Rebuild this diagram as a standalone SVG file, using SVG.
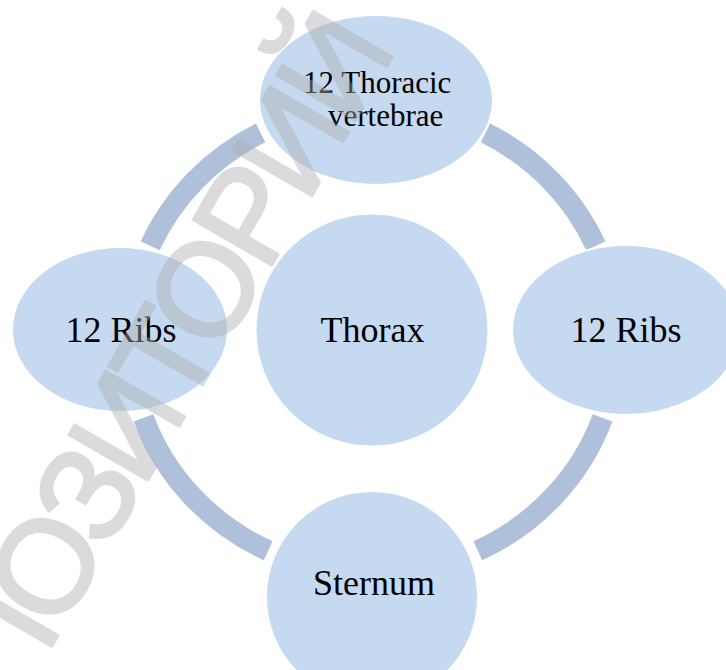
<svg xmlns="http://www.w3.org/2000/svg" width="726" height="670" viewBox="0 0 726 670">
  <style>
    .node { fill: #c5d9f0; stroke: #ffffff; stroke-width: 2; }
    .ring { fill: none; stroke: #afc0db; stroke-width: 21; stroke-linecap: butt; }
    .label { fill: #000000; font-family: "Liberation Serif", "Times New Roman", serif; }
    .big { font-size: 36px; text-anchor: middle; }
    .small { font-size: 31px; }
    .mark { font-family: "Liberation Sans", Arial, sans-serif; font-size: 132px; letter-spacing: -8px;
            fill: #aeaeae; stroke: #aeaeae; stroke-width: 3; stroke-linejoin: round; }
  </style>
  <rect width="726" height="670" fill="#ffffff"/>

  <!-- cycle arcs between the outer nodes -->
  <g id="connectors">
    <path class="ring" d="M150.2,245.8 A243.5,233.5 0 0 1 260.6,132.9"/>
    <path class="ring" d="M485.4,132.9 A243.5,233.5 0 0 1 595.8,245.8"/>
    <path class="ring" d="M602.5,417.9 A243.5,233.5 0 0 1 477.8,550.8"/>
    <path class="ring" d="M268.2,550.8 A243.5,233.5 0 0 1 143.5,417.9"/>
  </g>

  <g id="node-thorax">
    <circle class="node" cx="372" cy="330" r="116.5"/>
    <text class="label big" x="372.5" y="342">Thorax</text>
  </g>

  <g id="node-vertebrae">
    <ellipse class="node" cx="376" cy="100" rx="117" ry="85"/>
    <text class="label small" x="303" y="93">12 Thoracic</text>
    <text class="label small" x="328" y="126">vertebrae</text>
  </g>

  <g id="node-ribs-left">
    <ellipse class="node" cx="120" cy="329.5" rx="108" ry="82.5"/>
    <text class="label big" x="121" y="342">12 Ribs</text>
  </g>

  <g id="node-ribs-right">
    <ellipse class="node" cx="626" cy="330" rx="114" ry="85"/>
    <text class="label big" x="626" y="342">12 Ribs</text>
  </g>

  <g id="node-sternum">
    <circle class="node" cx="372" cy="597" r="106"/>
    <text class="label big" x="374" y="595" font-size="37">Sternum</text>
  </g>

  <!-- diagonal repository stamp over the page -->
  <g id="stamp" opacity="0.43">
    <text class="mark" transform="rotate(-60)" x="-766" y="368">РЕПОЗИТОРИЙ</text>
  </g>
</svg>
